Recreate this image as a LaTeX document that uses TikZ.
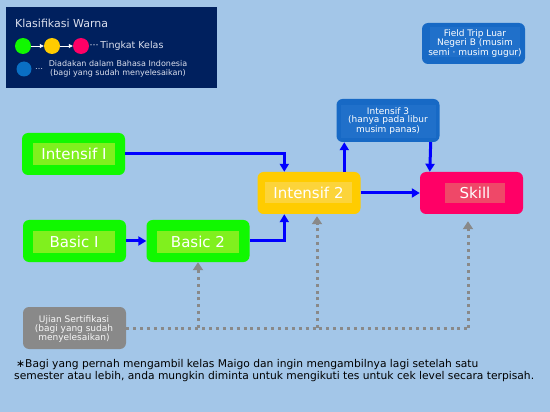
\documentclass[tikz,border=0pt]{standalone}
\usepackage{fontspec}
\setmainfont{DejaVu Sans}
\usetikzlibrary{arrows.meta,positioning,calc}
\definecolor{bgc}{HTML}{A3C6E8}
\definecolor{navy}{HTML}{00205E}
\definecolor{grn}{HTML}{11F800}
\definecolor{grnin}{HTML}{80F01E}
\definecolor{ylw}{HTML}{FFCC00}
\definecolor{ylwin}{HTML}{FCD43A}
\definecolor{pnk}{HTML}{FF0066}
\definecolor{pnkin}{HTML}{EF4868}
\definecolor{blu}{HTML}{1769C5}
\definecolor{bluin}{HTML}{2070CA}
\definecolor{legblu}{HTML}{0A6FC4}
\definecolor{gry}{HTML}{898989}
\definecolor{arr}{HTML}{0000FF}
\definecolor{legtxt}{HTML}{DCE0EE}
\begin{document}
\begin{tikzpicture}[x=1pt,y=-1pt,
  box/.style={rounded corners=6pt,minimum width=103pt,minimum height=42pt,inner sep=0pt},
  inbox/.style={inner sep=0pt,minimum height=22pt,text=white,font=\fontsize{15}{18}\selectfont},
  smalltxt/.style={text=white,align=center,inner sep=0pt,font=\fontsize{9}{9}\selectfont},
  bluearrow/.style={draw=arr,line width=3pt,-{Triangle[length=8pt,width=9pt]}},
  graydot/.style={draw=gry,line width=3pt,dash pattern=on 3pt off 3.9pt},
  grayarrow/.style={graydot,-{Triangle[length=8pt,width=10pt]}},
  dot/.style={circle,minimum size=16pt,inner sep=0pt},
  legarrow/.style={draw=white,line width=0.8pt,-{Triangle[length=4pt,width=4pt]}},
  legtext/.style={text=legtxt,inner sep=0pt,anchor=west}]
\useasboundingbox (0,0) rectangle (550,412);
\fill[bgc] (0,0) rectangle (550,412);

% legend
\node[fill=navy,minimum width=211pt,minimum height=81pt,inner sep=0pt,anchor=north west] (legend) at (6,7) {};
\node[legtext,font=\fontsize{11}{12}\selectfont] (legtitle) at (15,23) {Klasifikasi Warna};
\node[dot,fill=grn] (lg) at (23,46) {};
\node[dot,fill=ylw] (ly) at (52,46) {};
\node[dot,fill=pnk] (lp) at (81,46) {};
\draw[legarrow] (lg) -- (ly);
\draw[legarrow] (ly) -- (lp);
\node[legtext,font=\fontsize{9.5}{11}\selectfont] (lvl) at (89.5,46) {···\,Tingkat Kelas};
\node[dot,fill=legblu,minimum size=15pt] (lb) at (24,69) {};
\node[legtext,font=\fontsize{8}{9}\selectfont] (ldots) at (35,69) {…};
\node[text=legtxt,inner sep=0pt,align=center,font=\fontsize{8}{8.8}\selectfont] (lbtxt) at (118,68.5) {Diadakan dalam Bahasa Indonesia\\(bagi yang sudah menyelesaikan)};

% field trip
\node[box,fill=blu,minimum height=41pt] (field) at (473.5,43.5) {};
\node[fill=bluin,minimum width=90pt,minimum height=30pt,inner sep=0pt] (fieldin) at (475,42) {};
\node[smalltxt,font=\fontsize{9}{9.6}\selectfont] (fieldt) at (475,43.5) {Field Trip Luar\\Negeri B (musim\\semi · musim gugur)};

% intensif I
\node[box,fill=grn] (int1) at (73.5,154) {};
\node[inbox,fill=grnin,minimum width=82pt] (int1t) at (74,154) {Intensif I};

% basic I
\node[box,fill=grn] (bas1) at (74.5,241) {};
\node[inbox,fill=grnin,minimum width=82pt] (bas1t) at (74,242) {Basic I};

% basic 2
\node[box,fill=grn] (bas2) at (198,241) {};
\node[inbox,fill=grnin,minimum width=82pt] (bas2t) at (198,242) {Basic 2};

% intensif 2
\node[box,fill=ylw] (int2) at (309,193) {};
\node[inbox,fill=ylwin,minimum width=87pt,minimum height=21pt] (int2t) at (308.5,192.5) {Intensif 2};

% skill
\node[box,fill=pnk] (skill) at (471.5,193) {};
\node[inbox,fill=pnkin,minimum width=60pt,minimum height=20pt] (skillt) at (475,193) {Skill};

% intensif 3
\node[box,fill=blu,minimum height=43pt] (int3) at (388,120.5) {};
\node[fill=bluin,minimum width=95pt,minimum height=33pt,inner sep=0pt] (int3in) at (388.5,121.5) {};
\node[smalltxt,font=\fontsize{9}{8.7}\selectfont] (int3t) at (388,121) {Intensif 3\\(hanya pada libur\\musim panas)};

% ujian
\node[box,fill=gry] (ujian) at (74.5,328) {};
\node[smalltxt,text=white!92!gry,font=\fontsize{9}{9}\selectfont] (ujiant) at (74,329) {Ujian Sertifikasi\\(bagi yang sudah\\menyelesaikan)};

% blue connectors
\draw[bluearrow] (int1.east) -| ([xshift=27pt]int2.north west);
\draw[bluearrow] (bas1.east) -- (bas2.west);
\draw[bluearrow] (bas2.east) -| ([xshift=27pt]int2.south west);
\draw[bluearrow] (int2.east) -- (skill.west);
\draw[bluearrow] ([xshift=87pt]int2.north west) -- ([xshift=8pt]int3.south west);
\draw[bluearrow] ([xshift=-9pt]int3.south east) -- ([xshift=10pt]skill.north west);

% gray dotted connectors
\coordinate (jB) at (198,328);
\coordinate (jI) at (317,328);
\coordinate (jS) at (468,328);
\draw[graydot] (ujian.east) -- (jS);
\draw[grayarrow] (jB) -- (bas2.south);
\draw[grayarrow,shorten >=2pt] (jI) -- (jI |- int2.south);
\draw[grayarrow,shorten >=7pt] (jS) -- (jS |- skill.south);

% footnote
\node[anchor=base west,inner sep=0pt,align=left,font=\fontsize{10.7}{11.2}\selectfont] (note) at (14,379) {\hspace{2pt}∗Bagi yang pernah mengambil kelas Maigo dan ingin mengambilnya lagi setelah satu\\semester atau lebih, anda mungkin diminta untuk mengikuti tes untuk cek level secara terpisah.};
\end{tikzpicture}
\end{document}
